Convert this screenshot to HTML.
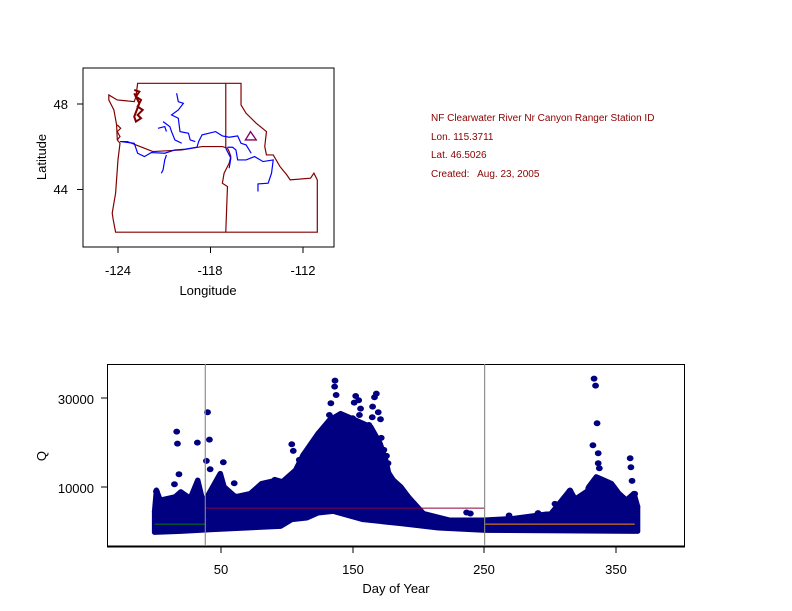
<!DOCTYPE html>
<html><head><style>
body{margin:0;background:#fff;}
svg{display:block;font-family:"Liberation Sans",Arial,sans-serif;}
</style></head><body>
<svg width="792" height="611" viewBox="0 0 792 611" xmlns="http://www.w3.org/2000/svg">
<rect width="792" height="611" fill="#fff"/>
<!-- MAP -->
<rect x="83" y="68" width="251" height="179" fill="none" stroke="#000" stroke-width="1"/>
<g stroke="#000" stroke-width="1">
<line x1="118" y1="247" x2="118" y2="253"/><line x1="210.5" y1="247" x2="210.5" y2="253"/><line x1="303" y1="247" x2="303" y2="253"/>
<line x1="77" y1="104" x2="83" y2="104"/><line x1="77" y1="189.5" x2="83" y2="189.5"/>
</g>
<g font-size="13" fill="#000" text-anchor="middle">
<text x="118" y="275">-124</text><text x="210" y="275">-118</text><text x="303" y="275">-112</text>
<text x="208" y="295">Longitude</text>
<text x="68" y="109" text-anchor="end">48</text><text x="68" y="194" text-anchor="end">44</text>
<text transform="translate(46,157) rotate(-90)">Latitude</text>
</g>
<g transform="translate(80,60) scale(0.339,0.333)" fill="none" stroke-width="3.5">
<path stroke="#800000" d="M170,70 L475,70 L475,135 L490,160 L520,190 L550,215 L545,260 L550,285 L570,285 L590,320 L610,345 L620,360 L680,355 L690,340 L700,360 L700,517 L105,517 L98,480 L95,460 L100,430 L105,400 L112,300 L118,250 L110,240 L108,195 L100,150 L85,120 L85,105 L110,120 L160,125 L165,110 Z"/>
<path stroke="#800000" d="M118,245 L140,245 L165,255 L215,275 L300,270 L360,260 L420,260 L435,265 L440,275 L445,290 L440,310 L425,340 L420,370 L435,380 L430,517"/>
<path stroke="#800000" d="M430,70 L430,262"/>
<path stroke="#800000" stroke-width="6" d="M160,90 L175,95 L165,110 L180,120 L170,140 L185,150 L170,165 L180,175 L165,185 L160,170 L175,130 L160,100"/>
<path stroke="#800000" d="M110,195 L120,205 L110,215 L118,230 L110,240"/>
<path stroke="#800060" stroke-width="4" d="M488,240 L503,215 L520,240 Z"/>
<g stroke="#0000ff">
<path d="M120,245 L160,250 L170,280 L190,290 L210,278 L250,280 L280,270 L310,268 L345,262 L350,245 L360,225 L400,215 L420,228 L440,232 L465,228 L475,250 L490,255 L505,280"/>
<path d="M435,262 L450,262 L460,270 L465,300 L490,300 L515,290 L540,305 L570,300 L565,340 L555,370 L525,372 L525,395"/>
<path d="M285,100 L290,125 L305,130 L290,150 L270,165 L290,175 L295,215 L320,220 L325,240 L340,245"/>
<path d="M245,185 L265,200 L270,215 L280,240 L300,250 M230,205 L250,200 L255,215"/>
<path d="M255,285 L250,300 L245,330 L240,340"/>
<path d="M430,265 L445,295 L440,325"/>
</g>
</g>
<!-- INFO TEXT -->
<g font-size="10" fill="#8b0000">
<text x="431" y="121">NF Clearwater River Nr Canyon Ranger Station ID</text>
<text x="431" y="140">Lon. 115.3711</text>
<text x="431" y="158">Lat. 46.5026</text>
<text x="431" y="177">Created:&#160;&#160; Aug. 23, 2005</text>
</g>
<!-- SCATTER PLOT -->
<rect x="107.5" y="364.5" width="577" height="182" fill="none" stroke="#000" stroke-width="1"/>
<line x1="107" y1="546.5" x2="685" y2="546.5" stroke="#000" stroke-width="2"/>
<g stroke="#000" stroke-width="1">
<line x1="221" y1="547" x2="221" y2="553"/><line x1="353" y1="547" x2="353" y2="553"/><line x1="484" y1="547" x2="484" y2="553"/><line x1="616" y1="547" x2="616" y2="553"/>
<line x1="101" y1="398" x2="107" y2="398"/><line x1="101" y1="487" x2="107" y2="487"/>
</g>
<g font-size="13" fill="#000" text-anchor="middle">
<text x="221" y="574">50</text><text x="353" y="574">150</text><text x="484" y="574">250</text><text x="616" y="574">350</text>
<text x="396" y="593">Day of Year</text>
<text x="94" y="404" text-anchor="end">30000</text><text x="94" y="493" text-anchor="end">10000</text>
<text transform="translate(46,456) rotate(-90)">Q</text>
</g>
<g transform="translate(100,360) scale(0.376,0.333)">
<path fill="#000080" stroke="#000080" stroke-width="14" stroke-linejoin="round" d="M145,455 L210,440 L280,440 L350,430 L420,390 L480,370 L520,330 L540,285 L580,250 L620,230 L660,215 L700,220 L740,290 L780,360 L820,410 L860,460 L930,480 L1020,480 L1100,475 L1200,460 L1240,410 L1260,420 L1300,390 L1350,400 L1400,420 L1430,440 L1430,515 L1025,512 L900,505 L800,492 L700,480 L620,455 L580,460 L550,475 L510,480 L480,500 L300,510 L215,515 L145,518 Z"/>
<path fill="#000080" stroke="#000080" stroke-width="14" stroke-linejoin="round" d="M145,455 L150,390 L160,420 L200,410 L215,395 L240,415 L260,360 L275,430 L290,400 L320,340 L330,380 L360,410 L400,400 L430,370 L470,360 L500,370 L520,340 L540,285 L580,220 L610,180 L640,160 L660,170 L700,190 L720,200 L745,250 L760,300 L770,350 L800,380 L820,410 Z M1200,460 L1250,390 L1270,430 L1290,420 L1300,380 L1320,350 L1340,360 L1360,370 L1380,400 L1400,420 L1420,400 L1430,440 Z"/>
<g fill="#000080">
<circle cx="204" cy="215" r="9"/><circle cx="206" cy="251" r="9"/><circle cx="259" cy="248" r="9"/><circle cx="286" cy="157" r="9"/><circle cx="291" cy="239" r="9"/><circle cx="283" cy="303" r="9"/><circle cx="293" cy="328" r="9"/><circle cx="210" cy="343" r="9"/><circle cx="198" cy="373" r="9"/><circle cx="328" cy="307" r="9"/><circle cx="357" cy="370" r="9"/><circle cx="360" cy="410" r="9"/><circle cx="510" cy="253" r="9"/><circle cx="514" cy="273" r="9"/><circle cx="625" cy="62" r="9"/><circle cx="624" cy="80" r="9"/><circle cx="628" cy="105" r="9"/><circle cx="614" cy="130" r="9"/><circle cx="680" cy="108" r="9"/><circle cx="688" cy="121" r="9"/><circle cx="676" cy="128" r="9"/><circle cx="735" cy="101" r="9"/><circle cx="730" cy="112" r="9"/><circle cx="740" cy="157" r="9"/><circle cx="725" cy="140" r="9"/><circle cx="693" cy="146" r="9"/><circle cx="690" cy="165" r="9"/><circle cx="672" cy="175" r="9"/><circle cx="724" cy="172" r="9"/><circle cx="746" cy="178" r="9"/><circle cx="583" cy="220" r="9"/><circle cx="608" cy="200" r="9"/><circle cx="610" cy="165" r="9"/><circle cx="748" cy="234" r="9"/><circle cx="735" cy="266" r="9"/><circle cx="755" cy="270" r="9"/><circle cx="762" cy="288" r="9"/><circle cx="766" cy="310" r="9"/><circle cx="530" cy="300" r="9"/><circle cx="1314" cy="56" r="9"/><circle cx="1318" cy="77" r="9"/><circle cx="1322" cy="190" r="9"/><circle cx="1311" cy="256" r="9"/><circle cx="1325" cy="280" r="9"/><circle cx="1325" cy="310" r="9"/><circle cx="1328" cy="325" r="9"/><circle cx="1410" cy="295" r="9"/><circle cx="1412" cy="322" r="9"/><circle cx="1415" cy="363" r="9"/><circle cx="1422" cy="402" r="9"/><circle cx="1300" cy="385" r="9"/><circle cx="1250" cy="393" r="9"/><circle cx="1210" cy="432" r="9"/><circle cx="1088" cy="467" r="9"/><circle cx="1165" cy="460" r="9"/><circle cx="975" cy="458" r="9"/><circle cx="985" cy="461" r="9"/><circle cx="240" cy="415" r="9"/><circle cx="150" cy="395" r="9"/>
<circle cx="600" cy="240" r="9"/><circle cx="650" cy="200" r="9"/><circle cx="700" cy="205" r="9"/><circle cx="715" cy="195" r="9"/><circle cx="560" cy="270" r="9"/><circle cx="430" cy="375" r="9"/><circle cx="465" cy="360" r="9"/><circle cx="320" cy="350" r="9"/><circle cx="1300" cy="395" r="9"/><circle cx="1330" cy="360" r="9"/><circle cx="1355" cy="375" r="9"/><circle cx="1380" cy="410" r="9"/><circle cx="1240" cy="415" r="9"/>
</g>
<line x1="145" y1="493" x2="280" y2="493" stroke="#008000" stroke-width="3"/>
<line x1="280" y1="445" x2="1022" y2="445" stroke="#8b0040" stroke-width="3"/>
<line x1="1025" y1="493" x2="1422" y2="493" stroke="#ff8c00" stroke-width="3"/>
<line x1="280" y1="12" x2="280" y2="555" stroke="#888" stroke-width="3"/>
<line x1="1023" y1="12" x2="1023" y2="555" stroke="#888" stroke-width="3"/>
</g>
</svg>
</body></html>
